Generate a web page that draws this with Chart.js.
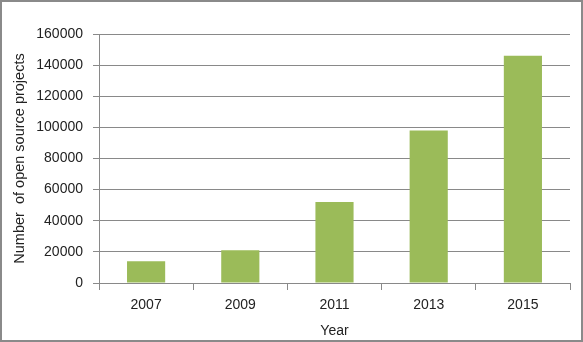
<!DOCTYPE html>
<html>
<head>
<meta charset="utf-8">
<script src="https://cdn.jsdelivr.net/npm/chart.js@4/dist/chart.umd.min.js"></script>
<style>
  html, body { margin: 0; padding: 0; background: #fff; }
  #wrap { position: relative; width: 583px; height: 342px; }
  #frame { position: absolute; left: 0; top: 0; width: 583px; height: 342px; box-sizing: border-box; border: 2px solid #8a8a8a; pointer-events: none; }
  canvas { position: absolute; left: 0; top: 0; }
</style>
</head>
<body>
<div id="wrap">
  <canvas id="c" width="583" height="342"></canvas>
  <div id="frame"></div>
</div>
<script>
const categories = ['2007', '2009', '2011', '2013', '2015'];
const projects = [14000, 21000, 52000, 98000, 146000];
const yTicks = [0, 20000, 40000, 60000, 80000, 100000, 120000, 140000, 160000];
const xTitle = 'Year';
const yTitle = 'Number  of open source projects';

const font = { family: '"Liberation Sans", Arial, sans-serif', size: 14 };
const titleFont = { family: '"Liberation Sans", Arial, sans-serif', size: 14.5 };
const textColor = '#222222';
const gridColor = '#898989';

new Chart(document.getElementById('c'), {
  type: 'bar',
  data: {
    labels: categories,
    datasets: [{
      data: projects,
      backgroundColor: '#9BBB59',
      borderWidth: 0,
      categoryPercentage: 1,
      barPercentage: 0.405
    }]
  },
  options: {
    responsive: false,
    devicePixelRatio: 1,
    animation: false,
    layout: { padding: { left: 0, top: 34, right: 13, bottom: 0 } },
    plugins: { legend: { display: false }, tooltip: { enabled: false } },
    scales: {
      x: {
        grid: { display: true, drawOnChartArea: false, drawTicks: true, tickLength: 7, color: gridColor, lineWidth: 1, offset: true },
        border: { display: true, color: gridColor, width: 1 },
        ticks: { color: textColor, font: font, padding: 7, maxRotation: 0 },
        title: { display: true, text: xTitle, color: textColor, font: font, padding: { top: 0, bottom: 2 } },
        afterFit: (s) => { s.height = 59; }
      },
      y: {
        min: 0,
        max: 160000,
        afterBuildTicks: (s) => { s.ticks = yTicks.map(v => ({ value: v })); },
        grid: { display: true, drawOnChartArea: true, drawTicks: true, tickLength: 6, color: gridColor, lineWidth: 1 },
        border: { display: true, color: gridColor, width: 1 },
        ticks: { color: textColor, font: font, padding: 10, callback: (v) => String(v) },
        title: { display: true, text: yTitle, color: textColor, font: titleFont, padding: { top: 11, bottom: 0 } },
        afterFit: (s) => { s.width = 99; }
      }
    }
  }
});
</script>
</body>
</html>
